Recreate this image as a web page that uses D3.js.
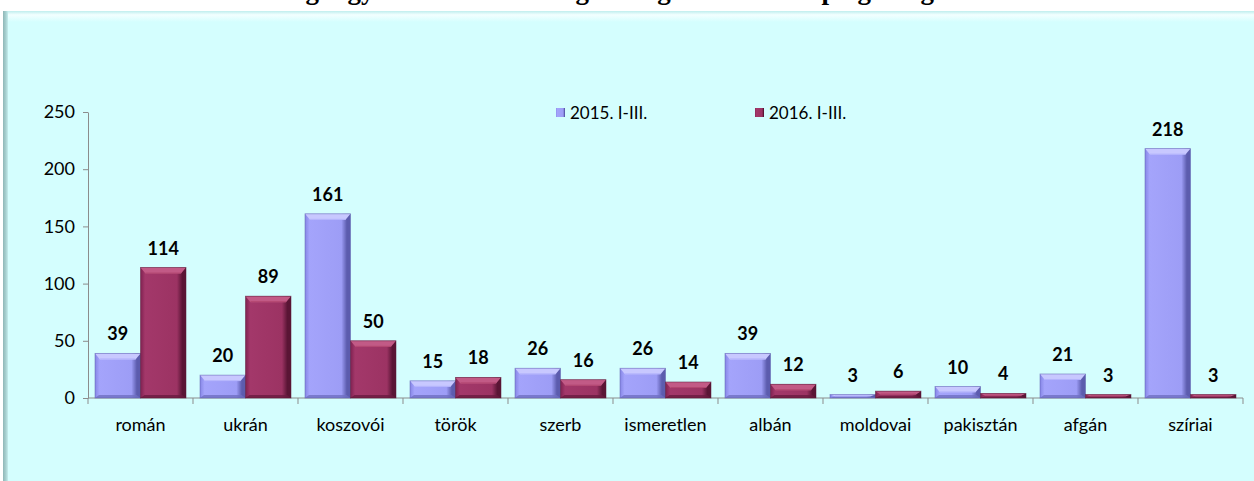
<!DOCTYPE html>
<html>
<head>
<meta charset="utf-8">
<script src="https://cdn.jsdelivr.net/npm/d3@7"></script>
<style>
  html, body { margin: 0; padding: 0; background: #ffffff; }
  svg { display: block; }
</style>
</head>
<body>
<svg id="chart" width="1254" height="481"></svg>
<script>
// Nationalities and counts for the two periods
const categories = ["román", "ukrán", "koszovói", "török", "szerb", "ismeretlen", "albán", "moldovai", "pakisztán", "afgán", "szíriai"];
const series = ["2015. I-III.", "2016. I-III."];
const values2015 = [39, 20, 161, 15, 26, 26, 39, 3, 10, 21, 218];
const values2016 = [114, 89, 50, 18, 16, 14, 12, 6, 4, 3, 3];
const yTicks = [0, 50, 100, 150, 200, 250];
const titleText = "A legnagyobb számban elfogott migránsok állampolgárság szerint";

const W = 1254, H = 481;
const svg = d3.select("#chart");
const defs = svg.append("defs");

// Panel background gradients
const topBevel = defs.append("linearGradient").attr("id", "topBevel").attr("x1", 0).attr("y1", 0).attr("x2", 0).attr("y2", 1);
topBevel.append("stop").attr("offset", "0%").attr("stop-color", "#bfeeee");
topBevel.append("stop").attr("offset", "35%").attr("stop-color", "#f2ffff");
topBevel.append("stop").attr("offset", "100%").attr("stop-color", "#d4fefe");

const leftEdge = defs.append("linearGradient").attr("id", "leftEdge").attr("x1", 0).attr("y1", 0).attr("x2", 1).attr("y2", 0);
leftEdge.append("stop").attr("offset", "0%").attr("stop-color", "#8fb7b7");
leftEdge.append("stop").attr("offset", "60%").attr("stop-color", "#a9d2d2");
leftEdge.append("stop").attr("offset", "100%").attr("stop-color", "#c6eeee");

// Bar body gradients (horizontal shading for the bevelled look)
const palettes = [
  { id: "g2015", edgeL: "#8686e6", mid: "#a4a4fb", mid2: "#9d9df6", edgeR: "#5c5cae", top: "#c8c8ff", topEdge: "#b4b4fc", bottom: "#6f6fc2" },
  { id: "g2016", edgeL: "#7f2150", mid: "#a3386a", mid2: "#9c3363", edgeR: "#5a1535", top: "#c25a86", topEdge: "#b2466f", bottom: "#6a1a40" }
];
palettes.forEach(p => {
  const g = defs.append("linearGradient").attr("id", p.id).attr("x1", 0).attr("y1", 0).attr("x2", 1).attr("y2", 0);
  g.append("stop").attr("offset", "0%").attr("stop-color", p.edgeL);
  g.append("stop").attr("offset", "10%").attr("stop-color", p.mid);
  g.append("stop").attr("offset", "80%").attr("stop-color", p.mid2);
  g.append("stop").attr("offset", "92%").attr("stop-color", p.edgeR);
  g.append("stop").attr("offset", "100%").attr("stop-color", p.edgeR);
});

// Panel
const panel = { x: 3, y: 11 };
svg.append("rect").attr("x", panel.x).attr("y", panel.y).attr("width", W - panel.x).attr("height", H - panel.y).attr("fill", "#d4fefe");
svg.append("rect").attr("x", panel.x).attr("y", panel.y).attr("width", W - panel.x).attr("height", 11).attr("fill", "url(#topBevel)");
svg.append("rect").attr("x", panel.x).attr("y", panel.y).attr("width", 5).attr("height", H - panel.y).attr("fill", "url(#leftEdge)");

// Title (sits above the panel, clipped by the top of the page)
svg.append("text")
  .attr("x", 640).attr("y", -1)
  .attr("text-anchor", "middle")
  .attr("font-family", "'Liberation Serif', 'Times New Roman', serif")
  .attr("font-weight", "bold")
  .attr("font-size", 27)
  .attr("fill", "#000")
  .text(titleText);

// Scales
const plot = { left: 88, right: 1243, top: 112, bottom: 398 };
const x0 = d3.scaleBand().domain(categories).range([plot.left, plot.right]).paddingInner(0.1333).paddingOuter(0.0667);
const x1 = d3.scaleBand().domain(series).range([0, x0.bandwidth()]).padding(0);
const y = d3.scaleLinear().domain([0, 250]).range([plot.bottom, plot.top]);

const fontSans = "Lato, 'Open Sans', 'Noto Sans', sans-serif";
const fs = 18;

// Y axis
const yAxis = d3.axisLeft(y).tickValues(yTicks).tickSize(5).tickSizeOuter(0).tickPadding(8);
const yG = svg.append("g").attr("transform", `translate(${plot.left},0)`).call(yAxis);
yG.select(".domain").attr("stroke", "#8c8c8c");
yG.selectAll(".tick line").attr("stroke", "#8c8c8c");
yG.selectAll(".tick text").attr("font-family", fontSans).attr("font-size", fs).attr("fill", "#000");

// X axis baseline and tick marks at category boundaries
const step = x0.step();
const boundaries = d3.range(categories.length + 1).map(i => plot.left + i * step);
svg.append("line").attr("x1", plot.left).attr("x2", plot.right).attr("y1", y(0)).attr("y2", y(0)).attr("stroke", "#8c8c8c");
svg.selectAll(".xtick").data(boundaries).join("line")
  .attr("x1", d => d).attr("x2", d => d)
  .attr("y1", y(0)).attr("y2", y(0) + 6)
  .attr("stroke", "#8c8c8c");
svg.selectAll(".xlab").data(categories).join("text")
  .attr("x", d => x0(d) + x0.bandwidth() / 2)
  .attr("y", 431)
  .attr("text-anchor", "middle")
  .attr("font-family", fontSans).attr("font-size", fs).attr("fill", "#000")
  .text(d => d);

// Bars
const rows = categories.map((c, i) => ({ cat: c, vals: [values2015[i], values2016[i]] }));
const groups = svg.selectAll(".grp").data(rows).join("g").attr("transform", d => `translate(${x0(d.cat)},0)`);

groups.each(function (row) {
  const g = d3.select(this);
  row.vals.forEach((v, si) => {
    const p = palettes[si];
    const bx = x1(series[si]);
    const bw = x1.bandwidth();
    const top = y(v);
    const bh = y(0) - top;
    const bev = Math.min(6, bh / 2);
    g.append("rect").attr("x", bx).attr("y", top).attr("width", bw).attr("height", bh).attr("fill", `url(#${p.id})`);
    // top bevel highlight
    if (bh > 2) {
      g.append("path")
        .attr("d", `M${bx},${top} L${bx + bw},${top} L${bx + bw - 5},${top + bev} L${bx + 5},${top + bev} Z`)
        .attr("fill", p.top);
      g.append("rect").attr("x", bx + 5).attr("y", top + bev - 1).attr("width", bw - 10).attr("height", 1).attr("fill", p.topEdge);
      // bottom shade
      g.append("path")
        .attr("d", `M${bx},${y(0)} L${bx + bw},${y(0)} L${bx + bw - 4},${y(0) - Math.min(3, bh / 3)} L${bx + 4},${y(0) - Math.min(3, bh / 3)} Z`)
        .attr("fill", p.bottom).attr("opacity", 0.8);
    }
    g.append("rect").attr("x", bx).attr("y", top).attr("width", bw).attr("height", bh)
      .attr("fill", "none").attr("stroke", p.edgeR).attr("stroke-width", 0.8).attr("opacity", 0.6);
    // value label
    g.append("text")
      .attr("x", bx + bw / 2)
      .attr("y", top - 13)
      .attr("text-anchor", "middle")
      .attr("font-family", fontSans).attr("font-weight", "bold").attr("font-size", fs).attr("fill", "#000")
      .text(v);
  });
});

// Legend
const legend = svg.append("g");
const legendX = [556, 755];
series.forEach((s, i) => {
  legend.append("rect").attr("x", legendX[i]).attr("y", 108).attr("width", 9).attr("height", 9).attr("fill", `url(#${palettes[i].id})`);
  legend.append("text").attr("x", legendX[i] + 14).attr("y", 119)
    .attr("font-family", fontSans).attr("font-size", fs - 1).attr("fill", "#000").text(s);
});
</script>
</body>
</html>
